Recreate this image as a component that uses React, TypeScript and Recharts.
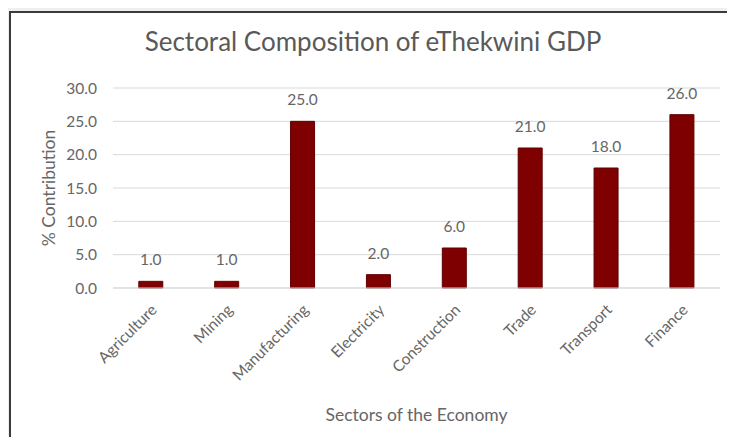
import React from "react";
import { BarChart, Bar, XAxis, YAxis, CartesianGrid, LabelList } from "recharts";

const sectors = ["Agriculture", "Mining", "Manufacturing", "Electricity", "Construction", "Trade", "Transport", "Finance"];
const contribution = [1.0, 1.0, 25.0, 2.0, 6.0, 21.0, 18.0, 26.0];
const yTicks = [0, 5, 10, 15, 20, 25, 30];

const data = sectors.map((s, i) => ({ sector: s, value: contribution[i] }));

const FONT = "Lato, 'Open Sans', sans-serif";
const GRAY = "#595959";
const LIGHT = "#666666";

const XTick = (props: any) => {
  const { x, y, payload } = props;
  return (
    <g transform={`translate(${x + 3},${y + 11})`}>
      <text x={0} y={0} dy="0.35em" textAnchor="end" transform="rotate(-45)" fill={LIGHT} fontSize={15.5} fontFamily={FONT}>
        {payload.value}
      </text>
    </g>
  );
};

export default function App() {
  return (
    <div style={{ position: "relative", width: 735, height: 445, margin: -8, background: "#efefef", overflow: "hidden" }}>
      <div style={{ position: "absolute", left: 9, top: 11, width: 724, height: 440, background: "#ffffff", borderLeft: "2px solid #3a3a3a", borderTop: "2px solid #3a3a3a" }} />
      <div style={{ position: "absolute", left: 11, top: 25, width: 724, textAlign: "center", fontFamily: FONT, fontSize: 26, color: GRAY, lineHeight: "32px" }}>
        Sectoral Composition of eThekwini GDP
      </div>
      <div style={{ position: "absolute", left: 0, top: 0 }}>
        <BarChart width={735} height={445} data={data} margin={{ top: 88, right: 15, bottom: 22, left: 43 }} barCategoryGap="34%">
          <CartesianGrid vertical={false} stroke="#d9d9d9" />
          <XAxis
            dataKey="sector"
            height={135}
            interval={0}
            tickLine={false}
            axisLine={{ stroke: "#d9d9d9" }}
            tick={<XTick />}
            label={{ value: "Sectors of the Economy", position: "insideBottom", offset: 2, fill: LIGHT, fontSize: 17.5, fontFamily: FONT }}
          />
          <YAxis
            width={70}
            domain={[0, 30]}
            ticks={yTicks}
            tickLine={false}
            axisLine={false}
            tickMargin={10}
            tickFormatter={(v: number) => v.toFixed(1)}
            tick={{ fill: LIGHT, fontSize: 15.5, fontFamily: FONT }}
            label={{ value: "% Contribution", angle: -90, position: "insideLeft", offset: 6, fill: LIGHT, fontSize: 17.5, fontFamily: FONT, style: { textAnchor: "middle" } }}
          />
          <Bar dataKey="value" fill="#7f0000" stroke="#600000" strokeWidth={1} isAnimationActive={false}>
            <LabelList dataKey="value" position="top" offset={16} formatter={(v: number) => v.toFixed(1)} fill={LIGHT} fontSize={15.5} fontFamily={FONT} />
          </Bar>
        </BarChart>
      </div>
    </div>
  );
}
